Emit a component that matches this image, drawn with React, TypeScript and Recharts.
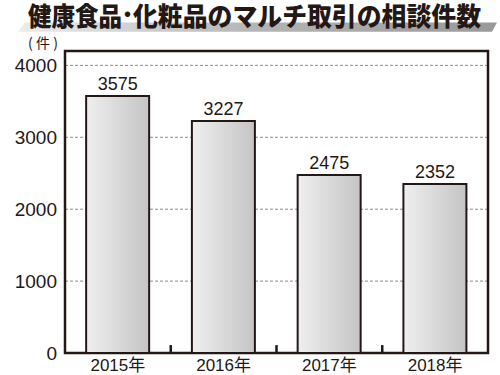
import React from 'react';
import { BarChart, Bar, XAxis, YAxis, CartesianGrid, LabelList, ReferenceArea, ReferenceLine } from 'recharts';

const years = ['2015年', '2016年', '2017年', '2018年'];
const counts = [3575, 3227, 2475, 2352];
const yTicks = [0, 1000, 2000, 3000, 4000];
const titleParts = ['健康食品', '･', '化粧品のマルチ取引の相談件数'];
const unitLabel = '(件)';

const data = years.map((year, i) => ({ year, count: counts[i] }));

const INK = '#231815';
const FONT = "'Liberation Sans', Arial, 'Noto Sans CJK JP', sans-serif";
const JP = "'Noto Sans CJK JP', sans-serif";

export default function App() {
  return (
    <div style={{ position: 'absolute', left: 0, top: 0, width: 500, height: 375, background: '#fff' }}>
      <BarChart
        width={500}
        height={375}
        data={data}
        margin={{ top: 51, right: 12, bottom: 0, left: 0 }}
        barCategoryGap="20%"
      >
        <defs>
          <linearGradient id="barGrad" x1="0" y1="0" x2="1" y2="0">
            <stop offset="0%" stopColor="#efefef" />
            <stop offset="100%" stopColor="#c4c4c4" />
          </linearGradient>
        </defs>
        <CartesianGrid vertical={false} stroke="#8a8a8a" strokeDasharray="3 2" strokeWidth={1} />
        <XAxis
          dataKey="year"
          height={22}
          axisLine={false}
          tickLine={false}
          tickSize={0}
          tickMargin={6}
          tick={{ fill: INK, fontSize: 17, fontFamily: FONT }}
          interval={0}
        />
        <YAxis
          width={65}
          domain={[0, 4200]}
          ticks={yTicks}
          axisLine={false}
          tickLine={false}
          tickSize={0}
          tickMargin={8}
          tick={{ fill: INK, fontSize: 19, fontFamily: FONT }}
          allowDataOverflow
        />
        <Bar
          dataKey="count"
          fill="url(#barGrad)"
          stroke={INK}
          strokeWidth={2}
          isAnimationActive={false}
        >
          <LabelList
            dataKey="count"
            position="top"
            offset={6}
            fill={INK}
            fontSize={18}
            fontFamily={FONT}
          />
        </Bar>
        <ReferenceArea
          x1={years[0]}
          x2={years[years.length - 1]}
          y1={0}
          y2={4200}
          fill="none"
          fillOpacity={0}
          stroke={INK}
          strokeWidth={2.5}
          ifOverflow="visible"
        />
        {years.slice(1).map((y) => (
          <ReferenceLine
            key={y}
            segment={[{ x: y, y: 0 }, { x: y, y: 110 }]}
            position="start"
            stroke={INK}
            strokeWidth={2.5}
            ifOverflow="visible"
          />
        ))}
      </BarChart>
      <svg
        width={500}
        height={60}
        style={{ position: 'absolute', left: 0, top: 0, pointerEvents: 'none' }}
      >
        <defs>
          <linearGradient id="swoosh" x1="0" y1="0" x2="1" y2="0">
            <stop offset="0%" stopColor="#ececec" />
            <stop offset="50%" stopColor="#b4b4b4" />
            <stop offset="100%" stopColor="#999999" />
          </linearGradient>
        </defs>
        <polygon points="25,22.5 497,22.5 492,31.7 18,31.7" fill="url(#swoosh)" />
        <text x={28} y={26} fill={INK} fontSize={26} fontWeight={900} fontFamily={JP}
          textLength={94} lengthAdjust="spacingAndGlyphs">
          {titleParts[0]}
        </text>
        <text x={127.5} y={24} fill={INK} fontSize={26} fontWeight={900} fontFamily={JP}
          textAnchor="middle">
          {titleParts[1]}
        </text>
        <text x={133} y={26} fill={INK} fontSize={26} fontWeight={900} fontFamily={JP}
          textLength={348} lengthAdjust="spacingAndGlyphs">
          {titleParts[2]}
        </text>
        <text
          x={28}
          y={48}
          fill={INK}
          fontSize={14}
          fontFamily={JP}
          textLength={30}
          lengthAdjust="spacing"
        >
          {unitLabel}
        </text>
      </svg>
    </div>
  );
}
